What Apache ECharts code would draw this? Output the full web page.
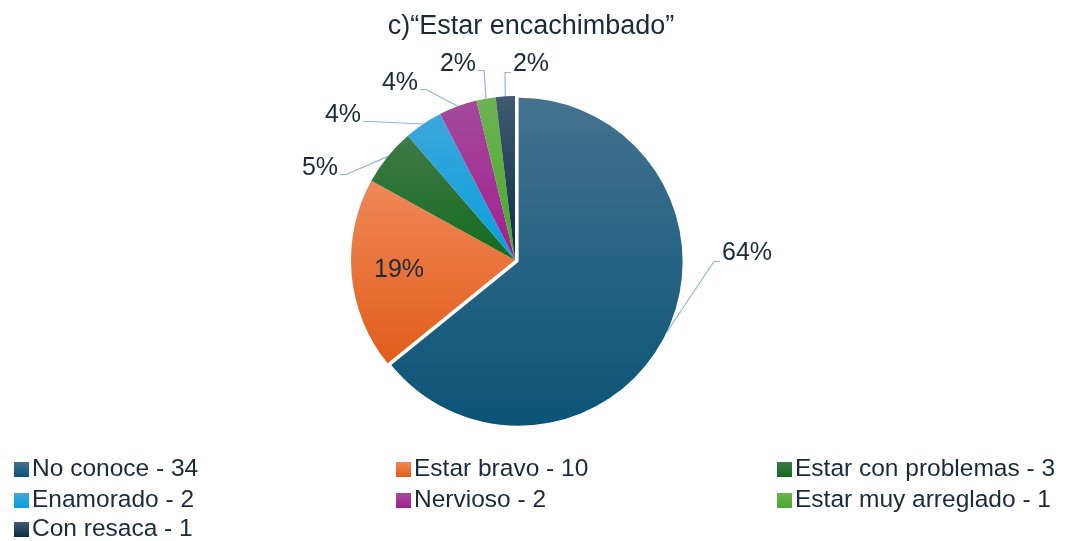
<!DOCTYPE html>
<html>
<head>
<meta charset="utf-8">
<script src="https://cdn.jsdelivr.net/npm/echarts@6/dist/echarts.min.js"></script>
<style>
  html, body { margin: 0; padding: 0; background: #fff; }
  #chart { width: 1066px; height: 541px; }
</style>
</head>
<body>
<div id="chart"></div>
<script>
// data
const categories = ["No conoce", "Estar bravo", "Estar con problemas", "Enamorado", "Nervioso", "Estar muy arreglado", "Con resaca"];
const counts = [34, 10, 3, 2, 2, 1, 1];
const pctLabels = ["64%", "19%", "5%", "4%", "4%", "2%", "2%"];

// top / bottom gradient stops per slice
const colorSet = [
  ["#44728f", "#0a5478"],
  ["#ef8858", "#e15d1a"],
  ["#3f7a48", "#136b1d"],
  ["#3ea6db", "#05a0dd"],
  ["#a44a9c", "#a11f8e"],
  ["#6db352", "#47a82a"],
  ["#405a70", "#0b2c45"],
];
const textColor = "#1b2a3b";
const font = "Liberation Sans";

// where the percentage labels sit (label centres)
const labelPos = [[747, 253], [399, 270], [320, 168], [343, 115], [400, 83], [458, 64], [531, 64]];
const pieCenter = [515, 260];
const pieRadius = 164;
const explode = 4; // the first slice is pulled out a little

function genColor(c) {
  return {
    type: "linear", x: 0, y: 0, x2: 0, y2: 1,
    colorStops: [{ offset: 0, color: c[0] }, { offset: 1, color: c[1] }],
  };
}

const names = categories.map((c, i) => c + " - " + counts[i]);
const total = counts.reduce((a, b) => a + b, 0);
const rest = total - counts[0];

// direction of the first slice's bisector (clockwise from 12 o'clock)
const midAng = (counts[0] / total) * Math.PI;
const explodedCenter = [pieCenter[0] + explode * Math.sin(midAng), pieCenter[1] - explode * Math.cos(midAng)];

const colX = [14, 396, 777];
const rowY = [457, 488, 517];

const chart = echarts.init(document.getElementById("chart"));
chart.setOption({
  animation: false,
  title: {
    text: "c)\u201cEstar encachimbado\u201d",
    left: 526,
    top: 8,
    textAlign: "center",
    textStyle: { fontFamily: font, fontSize: 27, fontWeight: "normal", color: textColor },
  },
  legend: names.map((n, i) => ({
    left: colX[i % 3],
    top: rowY[Math.floor(i / 3)],
    padding: 0,
    itemWidth: 15,
    itemHeight: 15,
    itemGap: 0,
    icon: "rect",
    selectedMode: false,
    data: [{ name: n, itemStyle: { color: genColor(colorSet[i]) } }],
    textStyle: { fontFamily: font, fontSize: 24.5, lineHeight: 24, color: textColor, padding: [0, 0, 0, -2] },
  })),
  series: [
    {
      // the pulled-out first slice
      type: "pie",
      center: explodedCenter,
      radius: pieRadius,
      startAngle: 90,
      clockwise: true,
      silent: true,
      label: { show: false },
      labelLine: { show: false },
      emphasis: { disabled: true },
      data: [
        { name: names[0], value: counts[0], itemStyle: { color: genColor(colorSet[0]) } },
        { name: "", value: rest, itemStyle: { color: "rgba(0,0,0,0)" } },
      ],
    },
    {
      type: "pie",
      center: pieCenter,
      radius: pieRadius,
      startAngle: 90,
      clockwise: true,
      avoidLabelOverlap: false,
      label: {
        show: true,
        position: "outside",
        fontFamily: font,
        fontSize: 25,
        color: textColor,
        formatter: p => pctLabels[p.dataIndex],
      },
      labelLine: {
        show: true,
        length: 10,
        length2: 10,
        lineStyle: { color: "#8db4e2", width: 1.2 },
      },
      labelLayout: params => {
        const i = params.dataIndex;
        const [cx, cy] = labelPos[i];
        const r = params.labelRect;
        const out = { x: cx, y: cy, align: "center", verticalAlign: "middle" };
        const pts = params.labelLinePoints;
        if (pts) {
          const w = r.width / 2, h = r.height / 2;
          const edge = pts[0].slice();
          if (i === 0) { edge[0] += explode * Math.sin(midAng); edge[1] -= explode * Math.cos(midAng); }
          let end, bend;
          if (cx > pieCenter[0]) {
            end = [cx - w - 2, cy + h - 4];
            bend = [end[0] - 6, end[1]];
          } else {
            end = [cx + w + 2, cy + h - 6];
            bend = [end[0] + 6, end[1]];
          }
          out.labelLinePoints = [edge, bend, end];
        }
        return out;
      },
      emphasis: { disabled: true },
      data: counts.map((v, i) => ({
        name: names[i],
        value: v,
        itemStyle: { color: i === 0 ? "rgba(0,0,0,0)" : genColor(colorSet[i]), borderWidth: 0 },
        label: i === 1 ? { position: "inside" } : undefined,
        labelLine: i === 1 ? { show: false } : undefined,
      })),
    },
  ],
});
</script>
</body>
</html>
